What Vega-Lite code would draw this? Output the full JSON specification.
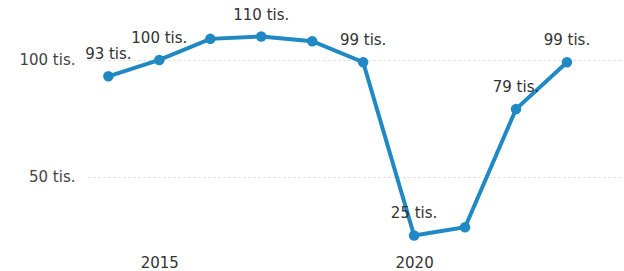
{
  "$schema": "https://vega.github.io/schema/vega-lite/v6.json",
  "autosize": {"type": "none"},
  "width": 534,
  "height": 250,
  "padding": {"left": 88, "top": 0, "right": 2, "bottom": 21},
  "background": "white",
  "config": {"view": {"stroke": null}, "font": "DejaVu Sans"},
  "data": {"values": [
    {"year": 2014, "value": 93, "label": "93 tis."},
    {"year": 2015, "value": 100, "label": "100 tis."},
    {"year": 2016, "value": 109, "label": ""},
    {"year": 2017, "value": 110, "label": "110 tis."},
    {"year": 2018, "value": 108, "label": ""},
    {"year": 2019, "value": 99, "label": "99 tis."},
    {"year": 2020, "value": 25, "label": "25 tis."},
    {"year": 2021, "value": 28.5, "label": ""},
    {"year": 2022, "value": 79, "label": "79 tis."},
    {"year": 2023, "value": 99, "label": "99 tis."}
  ]},
  "encoding": {
    "x": {"field": "year", "type": "quantitative",
      "scale": {"domain": [2013.6, 2024.08], "nice": false, "zero": false},
      "axis": {"values": [2015, 2020], "format": "d", "title": null, "grid": false, "domain": false, "ticks": false,
        "labelPadding": 5, "labelFontSize": 15, "labelColor": "#333", "labelFont": "DejaVu Sans"}},
    "y": {"field": "value", "type": "quantitative",
      "scale": {"domain": [18.8, 125.6], "nice": false, "zero": false},
      "axis": {"values": [50, 100], "title": null, "domain": false, "ticks": false, "labelPadding": 13,
        "labelExpr": "datum.value + ' tis.'", "labelFontSize": 15, "labelColor": "#444", "labelFont": "DejaVu Sans",
        "grid": true, "gridDash": [2, 3], "gridColor": "#d8d8d8", "gridWidth": 1}}
  },
  "layer": [
    {"mark": {"type": "line", "color": "#2089c4", "strokeWidth": 4}},
    {"mark": {"type": "point", "filled": true, "color": "#2089c4", "size": 110, "opacity": 1}},
    {"mark": {"type": "text", "dy": -22, "fontSize": 15, "color": "#333", "font": "DejaVu Sans"},
      "encoding": {"text": {"field": "label"}}}
  ]
}
